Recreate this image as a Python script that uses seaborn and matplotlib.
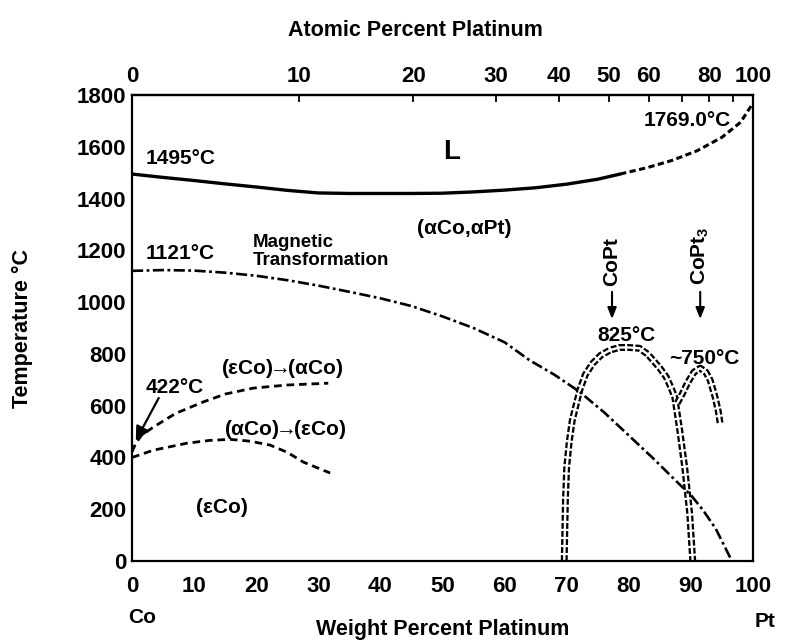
import numpy as np
import pandas as pd
import matplotlib
matplotlib.use("Agg")
import matplotlib.pyplot as plt
import seaborn as sns

# ---------------- data ----------------
liq_solid_wt = [0, 5, 10, 15, 20, 25, 30, 35, 40, 45, 50, 55, 60, 65, 70, 75, 78.6]
liq_solid_T = [1495, 1482, 1470, 1457, 1445, 1432, 1422, 1420, 1420, 1420, 1421, 1426, 1433, 1442, 1456, 1475, 1495]
liq_dash_wt = [78.6, 83, 87, 91, 95, 98, 100]
liq_dash_T = [1495, 1520, 1548, 1585, 1637, 1695, 1769]

mag_wt = [0, 5, 10, 15, 20, 25, 30, 35, 40, 45, 50, 55, 60, 64, 68, 72, 76, 80, 84, 88, 90, 92, 94, 96.6]
mag_T = [1121, 1124, 1122, 1114, 1102, 1085, 1064, 1040, 1015, 985, 945, 900, 845, 776, 720, 655, 575, 485, 395, 300, 255, 195, 125, 0]

copt_wt = [69.6, 69.7, 69.8, 70.0, 70.4, 70.9, 72.1, 73.0, 74.2, 75.5, 77.0, 78.5, 80.0, 81.7, 83.0, 83.9, 85.0, 86.0, 86.8, 87.4, 88.2, 89.0, 89.8, 90.3]
copt_T = [0, 120, 240, 363, 460, 544, 660, 720, 764, 795, 815, 825, 825, 822, 800, 776, 745, 712, 670, 633, 506, 363, 185, 0]

copt3_wt = [87.8, 88.6, 89.5, 90.5, 91.5, 92.4, 93.1, 93.9, 94.4, 94.7]
copt3_T = [610, 645, 690, 730, 745, 730, 699, 633, 580, 533]

eps_up_wt = [0, 0.6, 1.5, 3.4, 7, 11.4, 15, 19.5, 25, 31.6]
eps_up_T = [422, 455, 485, 517, 570, 614, 645, 668, 680, 687]
eps_dn_wt = [0, 3.4, 8.8, 12.5, 15.8, 19, 22.2, 25, 27.6, 31.9]
eps_dn_T = [400, 428, 455, 466, 470, 463, 448, 420, 382, 340]

wt_ticks = [0, 10, 20, 30, 40, 50, 60, 70, 80, 90, 100]
temp_ticks = [0, 200, 400, 600, 800, 1000, 1200, 1400, 1600, 1800]
at_ticks = [0, 10, 20, 30, 40, 50, 60, 70, 80, 90, 100]
at_labels = ["0", "10", "20", "30", "40", "50", "60", "", "80", "", "100"]

M_CO, M_PT = 58.933, 195.08

# ---------------- style ----------------
sns.set_theme(style="white")
plt.rcParams['font.family'] = ['Liberation Sans', 'DejaVu Sans']
plt.rcParams['font.weight'] = 'bold'
plt.rcParams['lines.scale_dashes'] = False
plt.rcParams['mathtext.default'] = 'regular'

fig = plt.figure(figsize=(7.86, 6.40), dpi=100)
ax = fig.add_axes([0.168, 0.1234, 0.790, 0.728])

K = 'black'
# liquidus
sns.lineplot(x=liq_solid_wt, y=liq_solid_T, ax=ax, color=K, lw=2.4, sort=False, estimator=None)
sns.lineplot(x=liq_dash_wt, y=liq_dash_T, ax=ax, color=K, lw=2.2, sort=False, estimator=None,
             linestyle=(0, (4.5, 2.5)))
# ordering domes (double dashed)
for xs, ys in [(copt_wt, copt_T), (copt3_wt, copt3_T)]:
    sns.lineplot(x=xs, y=ys, ax=ax, color=K, lw=5.0, sort=False, estimator=None,
                 linestyle=(0, (4.2, 1.6)))
    sns.lineplot(x=xs, y=ys, ax=ax, color='white', lw=1.7, sort=False, estimator=None)
# magnetic transformation
sns.lineplot(x=mag_wt, y=mag_T, ax=ax, color=K, lw=1.9, sort=False, estimator=None,
             linestyle=(0, (8, 2.5, 2, 2.5)))
# epsilon/alpha transitions
for xs, ys in [(eps_up_wt, eps_up_T), (eps_dn_wt, eps_dn_T)]:
    sns.lineplot(x=xs, y=ys, ax=ax, color=K, lw=2.0, sort=False, estimator=None,
                 linestyle=(0, (5.5, 3.5)))

ax.set_xlim(0, 100)
ax.set_ylim(0, 1800)
ax.set_xticks(wt_ticks)
ax.set_yticks(temp_ticks)
ax.set_xticklabels([str(v) for v in wt_ticks])
ax.set_yticklabels([str(v) for v in temp_ticks])
for s in ax.spines.values():
    s.set_linewidth(1.6)
    s.set_color(K)
ax.tick_params(axis='x', direction='in', length=5, width=1.3, labelsize=16, pad=11, colors=K)
ax.tick_params(axis='y', direction='in', length=5, width=1.3, labelsize=16, pad=4, colors=K)

# top atomic-percent axis
sec = ax.secondary_xaxis('top')
at = np.array(at_ticks, dtype=float)
top_pos = 100 * at * M_PT / (at * M_PT + (100 - at) * M_CO)
sec.set_xticks(top_pos)
sec.set_xticklabels(at_labels)
sec.tick_params(direction='in', length=5, width=1.3, labelsize=16, pad=6, colors=K)
sec.spines['top'].set_linewidth(1.6)

ax.set_xlabel("Weight Percent Platinum", fontsize=15.5, fontweight='bold', color=K)
ax.xaxis.set_label_coords(0.5, -0.125)
ax.set_ylabel("Temperature °C", fontsize=15.5, fontweight='bold', color=K)
ax.yaxis.set_label_coords(-0.16, 0.5)
ax.text(0.457, 1.139, "Atomic Percent Platinum", transform=ax.transAxes, fontsize=15.5,
        fontweight='bold', ha='center', va='center', color=K)

tk = dict(fontsize=15, fontweight='bold', color=K)
ax.text(1.6, -220, "Co", ha='center', va='center', clip_on=False, **tk)
ax.text(101.9, -232, "Pt", ha='center', va='center', clip_on=False, **tk)

ax.text(2.2, 1556, "1495°C", ha='left', va='center', **tk)
ax.text(51.5, 1579, "L", ha='center', va='center', fontsize=20, fontweight='bold', color=K)
ax.text(96.4, 1703, "1769.0°C", ha='right', va='center', **tk)
ax.text(53.5, 1286, "(αCo,αPt)", ha='center', va='center', **tk)
ax.text(2.2, 1189, "1121°C", ha='left', va='center', **tk)
ax.text(19.5, 1197, "Magnetic\nTransformation", ha='left', va='center', fontsize=13.5,
        fontweight='bold', color=K, linespacing=1.1)

# phase labels with downward arrows
ax.text(77.3, 1158, "CoPt", rotation=90, ha='center', va='center', **tk)
ax.text(91.5, 1178, "CoPt$_3$", rotation=90, ha='center', va='center', **tk)
for xa in (77.3, 91.5):
    ax.annotate("", xy=(xa, 935), xytext=(xa, 1040),
                arrowprops=dict(arrowstyle="-|>,head_length=0.55,head_width=0.22", color=K, lw=1.5,
                                shrinkA=0, shrinkB=0))

ax.text(79.7, 873, "825°C", ha='center', va='center', **tk)
ax.text(92.1, 784, "~750°C", ha='center', va='center', **tk)
ax.text(24.2, 745, "(εCo)$\\!\\!\\rightarrow\\!\\!$(αCo)", ha='center', va='center', **tk)
ax.text(6.8, 672, "422°C", ha='center', va='center', **tk)
ax.text(24.6, 510, "(αCo)$\\!\\!\\rightarrow\\!\\!$(εCo)", ha='center', va='center', **tk)
ax.text(14.5, 205, "(εCo)", ha='center', va='center', **tk)

ax.annotate("", xy=(0.6, 465), xytext=(4.3, 630),
            arrowprops=dict(arrowstyle="-|>,head_length=0.7,head_width=0.35", color=K, lw=1.6,
                            shrinkA=0, shrinkB=0))

fig.savefig("out.png", dpi=100)
